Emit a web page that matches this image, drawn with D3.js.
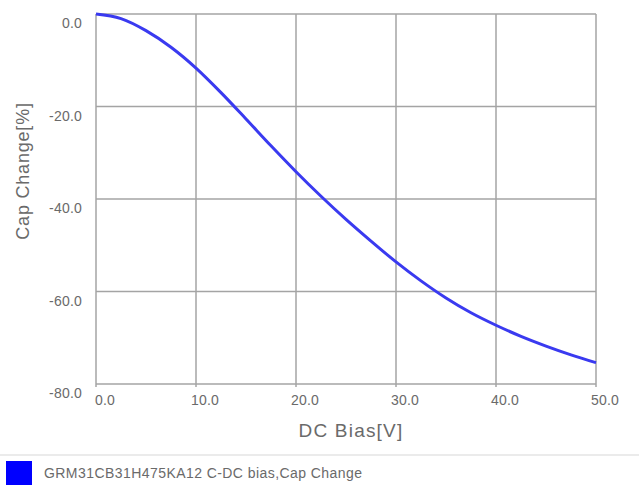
<!DOCTYPE html>
<html><head><meta charset="utf-8">
<script src="https://cdn.jsdelivr.net/npm/d3@7"></script>
<style>body{margin:0;background:#fff}svg{display:block}</style>
</head><body>
<script>
const biasV = [0,2.5,5,7.5,10,12.5,15,17.5,20,22.5,25,27.5,30,32.5,35,37.5,40,42.5,45,47.5,50];
const capChange = [0,-1.0,-3.6,-7.2,-11.7,-17.0,-22.7,-28.5,-34.1,-39.4,-44.4,-49.1,-53.6,-57.7,-61.4,-64.6,-67.3,-69.7,-71.8,-73.7,-75.4];
const xTicks = [0,10,20,30,40,50];
const yTicks = [0,-20,-40,-60,-80];
const seriesName = "GRM31CB31H475KA12 C-DC bias,Cap Change";
const xTitle = "DC Bias[V]";
const yTitle = "Cap Change[%]";

const W = 639, H = 489;
const m = {left:96, right:596, top:14, bottom:384};
const svg = d3.select("body").append("svg").attr("width",W).attr("height",H);
const x = d3.scaleLinear().domain([0,50]).range([m.left,m.right]);
const y = d3.scaleLinear().domain([-80,0]).range([m.bottom,m.top]);
const font = "'Liberation Sans', Arial, sans-serif";
const grid = "#a4a4a4", txt = "#6a6a6a";

// gridlines
svg.append("g").selectAll("line").data(xTicks).join("line")
  .attr("x1",d=>x(d)).attr("x2",d=>x(d)).attr("y1",m.top).attr("y2",m.bottom+3)
  .attr("stroke",grid).attr("stroke-width",1.5);
svg.append("g").selectAll("line").data(yTicks).join("line")
  .attr("x1",m.left).attr("x2",m.right).attr("y1",d=>y(d)).attr("y2",d=>y(d))
  .attr("stroke",grid).attr("stroke-width",1.5);

// tick labels
svg.append("g").selectAll("text").data(yTicks).join("text")
  .attr("x",m.left-14).attr("y",d=>y(d)+14)
  .attr("text-anchor","end").attr("font-family",font).attr("font-size",14)
  .attr("letter-spacing",0.2).attr("fill",txt).text(d=>d.toFixed(1));
svg.append("g").selectAll("text").data(xTicks).join("text")
  .attr("x",d=>x(d)+9).attr("y",m.bottom+21)
  .attr("text-anchor","middle").attr("font-family",font).attr("font-size",14)
  .attr("letter-spacing",0.2).attr("fill",txt).text(d=>d.toFixed(1));

// axis titles
svg.append("text").attr("x",351).attr("y",437).attr("text-anchor","middle")
  .attr("font-family",font).attr("font-size",19).attr("letter-spacing",1.2)
  .attr("fill",txt).text(xTitle);
svg.append("text").attr("transform","translate(29,171) rotate(-90)").attr("text-anchor","middle")
  .attr("font-family",font).attr("font-size",18).attr("letter-spacing",0.8)
  .attr("fill",txt).text(yTitle);

// curve
const line = d3.line().x((d,i)=>x(biasV[i])).y(d=>y(d)).curve(d3.curveMonotoneX);
svg.append("path").datum(capChange).attr("d",line).attr("fill","none")
  .attr("stroke","#3a3af0").attr("stroke-width",3);

// legend
svg.append("line").attr("x1",0).attr("x2",W).attr("y1",455).attr("y2",455)
  .attr("stroke","#e4e4e4").attr("stroke-width",1.5);
svg.append("rect").attr("x",6).attr("y",461).attr("width",26).attr("height",24).attr("fill","#0000ff");
svg.append("text").attr("x",44).attr("y",478).attr("font-family",font).attr("font-size",14)
  .attr("textLength",318).attr("lengthAdjust","spacing")
  .attr("fill",txt).text(seriesName);
</script>
</body></html>
